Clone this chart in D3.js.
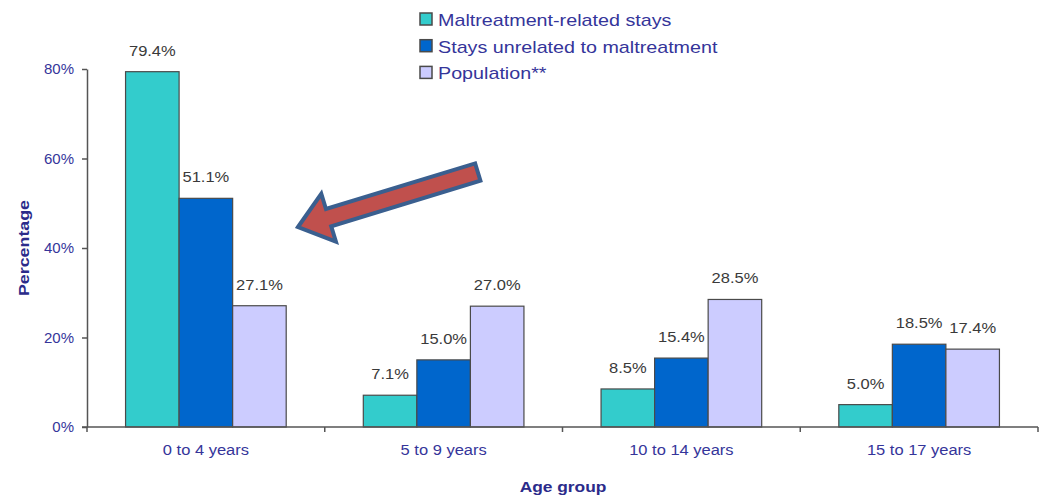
<!DOCTYPE html>
<html><head><meta charset="utf-8">
<script src="https://cdn.jsdelivr.net/npm/d3@7"></script>
<style>
html,body{margin:0;padding:0;background:#fff;}
svg{display:block;font-family:"Liberation Sans",Arial,sans-serif;}
</style></head>
<body><svg id="c" width="1043" height="496"></svg>
<script>
const categories = ["0 to 4 years", "5 to 9 years", "10 to 14 years", "15 to 17 years"];
const seriesNames = ["Maltreatment-related stays", "Stays unrelated to maltreatment", "Population**"];
const maltreatment = [79.4, 7.1, 8.5, 5.0];
const unrelated = [51.1, 15.0, 15.4, 18.5];
const population = [27.1, 27.0, 28.5, 17.4];
const yTicks = [0, 20, 40, 60, 80];
const colors = ["#33CCCC", "#0066CC", "#CCCCFF"];

const seriesValues = [maltreatment, unrelated, population];
const svg = d3.select("#c");
const txtBlue = "#35359A";

const x = d3.scaleBand().domain(categories).range([87, 1038]).paddingInner(0).paddingOuter(0);
const xs = d3.scaleBand().domain(seriesNames).range([0, x.bandwidth()]).paddingInner(0).paddingOuter(0.72);
const y = d3.scaleLinear().domain([0, 80]).range([427, 69]);

function stext(g, x0, y0, txt, sx, anchor) {
  return g.append("text").attr("transform", `translate(${x0},${y0}) scale(${sx},1)`)
    .attr("text-anchor", anchor || "middle").text(txt);
}

// bars
const data = [];
categories.forEach((c, i) => seriesNames.forEach((s, j) => data.push({c, s, j, v: seriesValues[j][i]})));
svg.append("g").selectAll("rect").data(data).join("rect")
  .attr("x", d => x(d.c) + xs(d.s)).attr("width", xs.bandwidth())
  .attr("y", d => y(d.v)).attr("height", d => y(0) - y(d.v))
  .attr("fill", d => colors[d.j]).attr("stroke", "#4a4a4a").attr("stroke-width", 1.2);

// value labels
const lg = svg.append("g").attr("font-size", 15).attr("fill", "#3a3a3a");
data.forEach(d => stext(lg, x(d.c) + xs(d.s) + xs.bandwidth() / 2, y(d.v) - 16, d.v.toFixed(1) + "%", 1.1));

// y axis
const yAxis = d3.axisLeft(y).tickValues(yTicks).tickFormat(d => d + "%").tickSize(5).tickSizeOuter(0);
const ya = svg.append("g").attr("transform", "translate(87,0)").call(yAxis);
ya.select(".domain").attr("stroke", "#555").attr("stroke-width", 1.5);
ya.selectAll(".tick line").attr("stroke", "#555").attr("stroke-width", 1.5);
ya.selectAll(".tick text").attr("font-size", 15).attr("fill", txtBlue).attr("font-family", "Liberation Sans, Arial, sans-serif").attr("x", -13);

// x axis
const xa = svg.append("g").attr("transform", "translate(0,427)");
xa.append("line").attr("x1", 82).attr("x2", 1038).attr("stroke", "#555").attr("stroke-width", 1.5);
const bounds = categories.map(c => x(c)).concat([x(categories[categories.length - 1]) + x.bandwidth()]);
xa.selectAll("line.tk").data(bounds).join("line").attr("class", "tk")
  .attr("x1", d => d).attr("x2", d => d).attr("y1", 0).attr("y2", 5).attr("stroke", "#555").attr("stroke-width", 1.5);
const xl = svg.append("g").attr("font-size", 15).attr("fill", txtBlue);
categories.forEach(c => stext(xl, x(c) + x.bandwidth() / 2, 455, c, 1.1));

// axis titles
const tg = svg.append("g").attr("font-size", 15.5).attr("font-weight", "bold").attr("fill", "#2B2B8A");
stext(tg, 563, 492, "Age group", 1.12);
tg.append("text").attr("transform", "translate(29,248) rotate(-90) scale(1.15,1)").attr("text-anchor", "middle").text("Percentage");

// legend
const leg = svg.append("g");
seriesNames.forEach((s, j) => {
  const yy = 13 + j * 26.7;
  leg.append("rect").attr("x", 420).attr("y", yy).attr("width", 12).attr("height", 12)
    .attr("fill", colors[j]).attr("stroke", "#4a4a4a").attr("stroke-width", 1.5);
  leg.append("text").attr("transform", `translate(438,${yy + 13}) scale(1.16,1)`)
    .attr("font-size", 17).attr("fill", txtBlue).text(s);
});

// arrow annotation
const L = 188, hl = 32, hw = 50, sw = 18;
const pts = [[0, 0], [hl, -hw / 2], [hl, -sw / 2], [L, -sw / 2], [L, sw / 2], [hl, sw / 2], [hl, hw / 2]];
svg.append("path").attr("d", "M" + pts.map(p => p.join(",")).join("L") + "Z")
  .attr("transform", "translate(298,227) rotate(-17)")
  .attr("fill", "#C0504D").attr("stroke", "#3A5F8F").attr("stroke-width", 4).attr("stroke-linejoin", "miter");
</script></body></html>
